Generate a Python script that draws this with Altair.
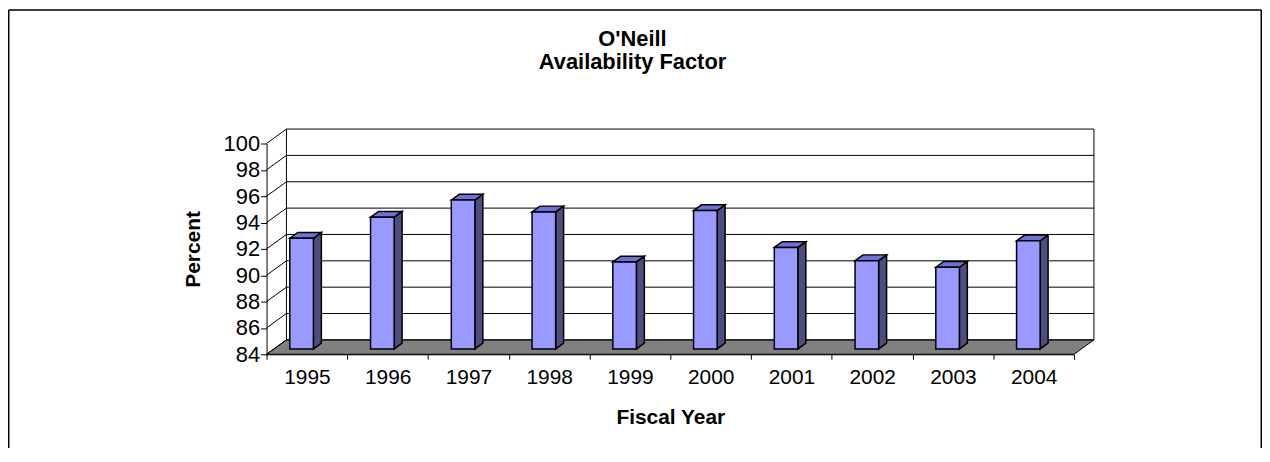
import altair as alt
import pandas as pd

# ---------------- data ----------------
YEARS = ["1995", "1996", "1997", "1998", "1999", "2000", "2001", "2002", "2003", "2004"]
VALUES = [92.4, 94.0, 95.3, 94.4, 90.6, 94.5, 91.7, 90.7, 90.2, 92.2]
Y_TICKS = [84, 86, 88, 90, 92, 94, 96, 98, 100]

TITLE = ["O'Neill", "Availability Factor"]
X_TITLE = "Fiscal Year"
Y_TITLE = "Percent"

# ---------------- geometry / style ----------------
FONT = "Liberation Sans"
Y_MIN, Y_MAX = 84, 100
N = len(YEARS)
W, H = 812, 212
PX_X = W / N                    # pixels per category slot
PX_Y = H / (Y_MAX - Y_MIN)      # pixels per percent
DX = 20 / PX_X                  # depth of the 3-D box (x, data units)
DY = 14.5 / PX_Y                # depth of the 3-D box (y, data units)
BAR_LEFT, BAR_W = 0.288, 0.292  # bar front face inside slot
BAR_BASE = 5.4 / PX_Y           # bar sits a bit behind the front edge
BDX, BDY = 8 / PX_X, 5.8 / PX_Y # bar depth

FRONT_C, SIDE_C, TOP_C = "#9999FF", "#4D4D80", "#7070D6"
PAD_L, PAD_T = 260, 135
SVG_W, SVG_H = 1261, 440

x_scale = alt.Scale(domain=[0, N], nice=False, zero=False)
y_scale = alt.Scale(domain=[Y_MIN, Y_MAX], nice=False, zero=False)

# ---------------- tables ----------------
floor_df = pd.DataFrame({
    "x": [0, DX, N, N + DX],
    "y": [Y_MIN, Y_MIN, Y_MIN, Y_MIN + DY],
    "y2": [Y_MIN, Y_MIN + DY, Y_MIN + DY, Y_MIN + DY],
})
diag_df = pd.DataFrame({"x": [0] * len(Y_TICKS), "x2": [DX] * len(Y_TICKS),
                        "y": Y_TICKS, "y2": [t + DY for t in Y_TICKS]})
grid_df = pd.DataFrame({"x": [DX] * len(Y_TICKS), "x2": [N + DX] * len(Y_TICKS),
                        "y": [t + DY for t in Y_TICKS]})
edge_df = pd.DataFrame({"x": [DX, N + DX], "y": [Y_MIN + DY] * 2, "y2": [Y_MAX + DY] * 2})

front_rows, side_rows, top_rows = [], [], []
for i, (yr, v) in enumerate(zip(YEARS, VALUES)):
    L = i + BAR_LEFT
    R = L + BAR_W
    B = Y_MIN + BAR_BASE
    T = v + BAR_BASE
    front_rows.append({"year": yr, "x": L, "x2": R, "y": B, "y2": T, "value": v})
    side_rows += [{"year": yr, "x": R, "y": T, "y2": B},
                  {"year": yr, "x": R + BDX, "y": T + BDY, "y2": B + BDY}]
    top_rows += [{"year": yr, "x": L, "y": T, "y2": T},
                 {"year": yr, "x": L + BDX, "y": T + BDY, "y2": T},
                 {"year": yr, "x": R, "y": T + BDY, "y2": T},
                 {"year": yr, "x": R + BDX, "y": T + BDY, "y2": T + BDY}]
front_df = pd.DataFrame(front_rows)
side_df = pd.DataFrame(side_rows)
top_df = pd.DataFrame(top_rows)

years_js = "[" + ",".join("'%s'" % y for y in YEARS) + "]"

x_axis = alt.Axis(
    values=list(range(N + 1)), labelExpr=years_js + "[datum.value] || ''",
    labelOffset=PX_X / 2, labelFont=FONT, labelFontSize=21, labelColor="black",
    labelBaseline="alphabetic", labelPadding=24, labelOverlap=False, labelFlush=False,
    labelBound=False, tickSize=5, tickColor="black", domainColor="black", grid=False,
    title=X_TITLE, titleFont=FONT, titleFontSize=21, titleFontWeight="bold",
    titleColor="black", titleX=W / 2, titleY=70, titleAlign="center",
    titleBaseline="alphabetic", zindex=1,
)
y_axis = alt.Axis(
    values=Y_TICKS, labelFont=FONT, labelFontSize=22, labelColor="black",
    labelPadding=1, tickSize=6, tickColor="black", domainColor="black", grid=False,
    title=Y_TITLE, titleFont=FONT, titleFontSize=21, titleFontWeight="bold",
    titleColor="black", titleX=-67, titleY=H / 2, titleAngle=270,
    titleAlign="center", titleBaseline="alphabetic", zindex=1,
)

X = alt.X("x:Q", scale=x_scale, axis=x_axis)
Y = alt.Y("y:Q", scale=y_scale, axis=y_axis)

floor = alt.Chart(floor_df).mark_area(color="#808080", stroke="black", strokeWidth=1).encode(
    x=X, y=Y, y2="y2:Q",
)
diag = alt.Chart(diag_df).mark_rule(color="black", strokeWidth=1).encode(
    x=X, x2="x2:Q", y=Y, y2="y2:Q",
)
grid = alt.Chart(grid_df).mark_rule(color="black", strokeWidth=1).encode(
    x=X, x2="x2:Q", y=Y,
)
edges = alt.Chart(edge_df).mark_rule(color="black", strokeWidth=1).encode(
    x=X, y=Y, y2="y2:Q",
)
side = alt.Chart(side_df).mark_area(color=SIDE_C, stroke="black", strokeWidth=1.5).encode(
    x=X, y=Y, y2="y2:Q", detail="year:N",
)
top = alt.Chart(top_df).mark_area(color=TOP_C, stroke="black", strokeWidth=1.5).encode(
    x=X, y=Y, y2="y2:Q", detail="year:N",
)
front = alt.Chart(front_df).mark_rect(color=FRONT_C, stroke="black", strokeWidth=1.5).encode(
    x=X, x2="x2:Q", y=Y, y2="y2:Q",
    tooltip=["year:N", "value:Q"],
)

dummy = alt.Data(values=[{"a": 1}])
border_l = alt.Chart(dummy).mark_rule(color="black", strokeWidth=1.5).encode(
    x=alt.value(-PAD_L + 0.75), y=alt.value(-PAD_T + 0.75), y2=alt.value(SVG_H))
border_t = alt.Chart(dummy).mark_rule(color="black", strokeWidth=1.5).encode(
    x=alt.value(-PAD_L + 0.75), x2=alt.value(SVG_W - PAD_L - 0.75), y=alt.value(-PAD_T + 0.75))
border_r = alt.Chart(dummy).mark_rule(color="black", strokeWidth=1.5).encode(
    x=alt.value(SVG_W - PAD_L - 0.75), y=alt.value(-PAD_T + 0.75), y2=alt.value(SVG_H))

chart = alt.layer(
    floor, diag, grid, edges, side, top, front, border_l, border_t, border_r
).properties(
    width=W, height=H,
    title=alt.TitleParams(
        text=TITLE, font=FONT, fontSize=22, fontWeight="bold", color="black",
        anchor="middle", frame="group", baseline="alphabetic", offset=-82,
        dx=-38, lineHeight=23,
    ),
    autosize=alt.AutoSizeParams(type="none"),
    padding={"left": PAD_L, "top": PAD_T, "right": SVG_W - PAD_L - W,
             "bottom": SVG_H - PAD_T - H},
).configure(background="white").configure_view(stroke="transparent", strokeWidth=0)

chart.save("out.html", embed_options={"renderer": "svg", "actions": False})
